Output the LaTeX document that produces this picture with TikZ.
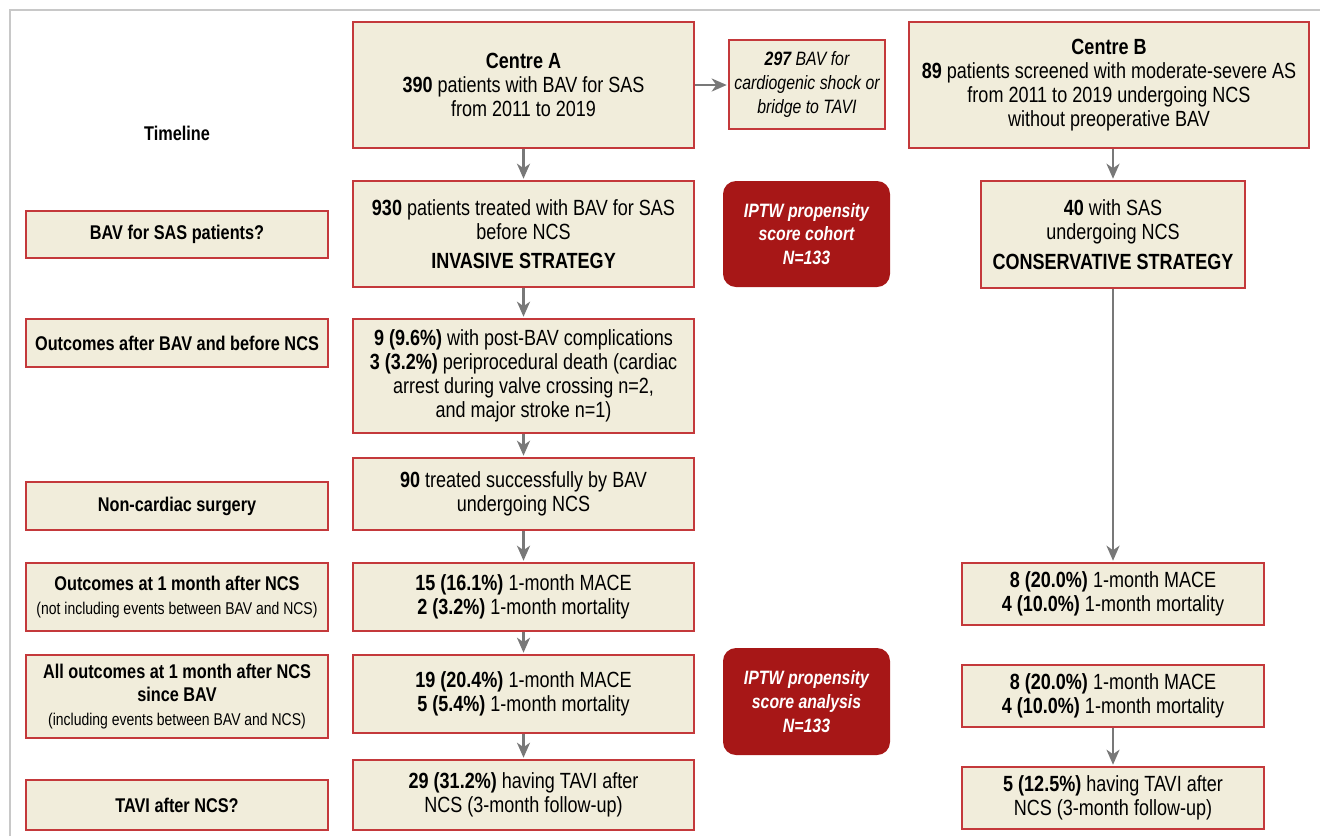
\documentclass[tikz,border=0pt]{standalone}
\usepackage{fontspec}
\setmainfont{Liberation Sans}[FakeStretch=0.82]
\usepackage{tikz}
\usetikzlibrary{positioning}
\usetikzlibrary{arrows.meta}
\definecolor{boxfill}{HTML}{F1EDDB}
\definecolor{boxline}{HTML}{C4393B}
\definecolor{darkred}{HTML}{A71717}
\definecolor{arrgray}{HTML}{787878}
\definecolor{framegray}{HTML}{C8C8C8}
\newcommand{\labsize}{\fontsize{11.3}{13.5}\selectfont}
\newcommand{\notesize}{\fontsize{9.7}{11}\selectfont}
\tikzset{
  lbox/.style={draw=boxline, fill=boxfill, line width=0.6pt, align=center, inner sep=2pt, font=\labsize\bfseries},
  cbox/.style={draw=boxline, fill=boxfill, line width=0.6pt, align=center, inner sep=2pt},
  rbox/.style={fill=darkred, rounded corners=2.6mm, align=center, text=white, font=\fontsize{11}{13.5}\selectfont\bfseries\itshape},
  arr/.style={draw=arrgray, line width=1.4pt, shorten >=1pt, -{Stealth[length=3mm, width=2.6mm, inset=0.9mm]}}
}

\begin{document}
\begin{tikzpicture}[x=0.2mm, y=-0.2mm, font=\fontsize{12.5}{13.7}\selectfont]
    \useasboundingbox (0,0) rectangle (1320,836);
    \draw[framegray, line width=0.3mm] (10,836) -- (10,10) -- (1320,10);

    \node[font=\labsize\bfseries] (timeline) at (177,133) {Timeline};
    \node[lbox, minimum width=302*0.2mm, minimum height=47*0.2mm] (lbav) at (177,234.5) {BAV for SAS patients?};
    \node[lbox, minimum width=302*0.2mm, minimum height=48*0.2mm] (lafter) at (177,343) {Outcomes after BAV and before NCS};
    \node[lbox, minimum width=302*0.2mm, minimum height=48*0.2mm] (lsurg) at (177,506) {Non-cardiac surgery};
    \node[lbox, minimum width=302*0.2mm, minimum height=68*0.2mm] (lmonth) at (177,597) {Outcomes at 1 month after NCS\\ {\mdseries\notesize (not including events between BAV and NCS)}};
    \node[lbox, minimum width=302*0.2mm, minimum height=83*0.2mm] (lall) at (177,696.5) {All outcomes at 1 month after NCS\\ since BAV\\ {\mdseries\notesize (including events between BAV and NCS)}};
    \node[lbox, minimum width=302*0.2mm, minimum height=50*0.2mm] (ltavi) at (177,805) {TAVI after NCS?};

    \node[cbox, minimum width=341*0.2mm, minimum height=126*0.2mm] (centreA) at (523.5,85) {\textbf{Centre A}\\ \textbf{390} patients with BAV for SAS\\ from 2011 to 2019};
    \node[cbox, minimum width=341*0.2mm, minimum height=106*0.2mm] (inv) at (523.5,234) {\textbf{930} patients treated with BAV for SAS\\ before NCS\\[3pt] \textbf{INVASIVE STRATEGY}};
    \node[cbox, minimum width=341*0.2mm, minimum height=114*0.2mm] (compl) at (523.5,376) {\textbf{9 (9.6\%)} with post-BAV complications\\ \textbf{3 (3.2\%)} periprocedural death (cardiac\\ arrest during valve crossing n=2,\\ and major stroke n=1)};
    \node[cbox, minimum width=341*0.2mm, minimum height=72*0.2mm] (succ) at (523.5,494) {\textbf{90} treated successfully by BAV\\ undergoing NCS};
    \node[cbox, minimum width=341*0.2mm, minimum height=68*0.2mm] (mace) at (523.5,597) {\textbf{15 (16.1\%)} 1-month MACE\\ \textbf{2 (3.2\%)} 1-month mortality};
    \node[cbox, minimum width=341*0.2mm, minimum height=78*0.2mm] (all) at (523.5,694) {\textbf{19 (20.4\%)} 1-month MACE\\ \textbf{5 (5.4\%)} 1-month mortality};
    \node[cbox, minimum width=341*0.2mm, minimum height=70*0.2mm] (tavi) at (523.5,795) {\textbf{29 (31.2\%)} having TAVI after\\ NCS (3-month follow-up)};

    \node[cbox, font=\fontsize{11}{13.5}\selectfont\itshape, minimum width=156*0.2mm, minimum height=89*0.2mm] (shock) at (807,84.5) {\textbf{297} BAV for\\ cardiogenic shock or\\ bridge to TAVI};
    \node[rbox, minimum width=167*0.2mm, minimum height=106*0.2mm] (cohort) at (806.5,234) {IPTW propensity\\ score cohort\\ N=133};
    \node[rbox, minimum width=167*0.2mm, minimum height=107*0.2mm] (analysis) at (806.5,701.5) {IPTW propensity\\ score analysis\\ N=133};

    \node[cbox, minimum width=400*0.2mm, minimum height=126*0.2mm] (centreB) at (1109,85) {\textbf{Centre B}\\ \textbf{89} patients screened with moderate-severe AS\\ from 2011 to 2019 undergoing NCS\\ without preoperative BAV};
    \node[cbox, minimum width=264*0.2mm, minimum height=107*0.2mm] (cons) at (1113,234.5) {\textbf{40} with SAS\\ undergoing NCS\\[3pt] \textbf{CONSERVATIVE STRATEGY}};
    \node[cbox, minimum width=302*0.2mm, minimum height=62*0.2mm] (bmace) at (1113,594) {\textbf{8 (20.0\%)} 1-month MACE\\ \textbf{4 (10.0\%)} 1-month mortality};
    \node[cbox, minimum width=302*0.2mm, minimum height=62*0.2mm] (ball) at (1113,696) {\textbf{8 (20.0\%)} 1-month MACE\\ \textbf{4 (10.0\%)} 1-month mortality};
    \node[cbox, minimum width=302*0.2mm, minimum height=62*0.2mm] (btavi) at (1113,798) {\textbf{5 (12.5\%)} having TAVI after\\ NCS (3-month follow-up)};

    \draw[arr] (centreA) -- (inv);
    \draw[arr] (centreA.east) -- (centreA.east -| shock.west);
    \draw[arr] (inv) -- (compl);
    \draw[arr] (compl) -- (succ);
    \draw[arr] (succ) -- (mace);
    \draw[arr] (mace) -- (all);
    \draw[arr] (all) -- (tavi);
    \draw[arr] (centreB.south -| cons.north) -- (cons.north);
    \draw[arr] (cons) -- (bmace);
    \draw[arr] (ball) -- (btavi);
\end{tikzpicture}
\end{document}
